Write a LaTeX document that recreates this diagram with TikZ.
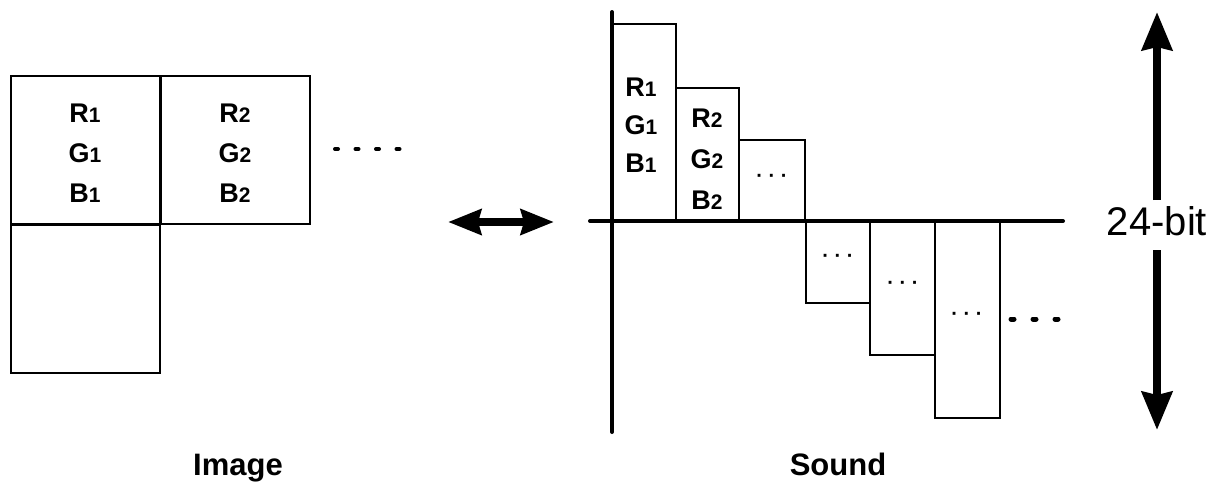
\documentclass[tikz,border=0pt]{standalone}
\usepackage{fontspec}
\setmainfont{Liberation Sans}
\usetikzlibrary{arrows.meta}
\newcommand\sdigit[1]{{\fontsize{21}{39}\selectfont #1}}
\begin{document}
\begin{tikzpicture}[x=1pt,y=-1pt,
  cell/.style={draw,line width=2pt,minimum width=149pt,minimum height=148pt,inner sep=0pt},
  bar/.style={draw,line width=1.8pt,inner sep=0pt},
  rgb/.style={font=\fontsize{27}{40}\selectfont\bfseries,align=center,inner sep=0pt},
  smalldots/.style={font=\fontsize{20}{20}\selectfont\bfseries,inner sep=0pt},
  axis/.style={line width=4pt,line cap=round},
  dashes/.style={line cap=round,dash pattern=on 3pt off 17.5pt},
  bigtip/.tip={Stealth[length=33pt,width=25pt,inset=3pt]},
  vtip/.tip={Stealth[length=38pt,width=30pt,inset=3pt]},
  caption/.style={font=\fontsize{31}{36}\selectfont\bfseries,inner sep=0pt,anchor=base}
]
\useasboundingbox (0,0) rectangle (1222,485);
% Image grid
\node[cell] (c1) at (85.5,150) {};
\node[cell] (c2) at (235,150) {};
\node[cell] (c3) at (85.5,298.5) {};
\node[rgb] (t1) at (85,153) {R\sdigit{1}\\G\sdigit{1}\\B\sdigit{1}};
\node[rgb] (t2) at (235,153) {R\sdigit{2}\\G\sdigit{2}\\B\sdigit{2}};
\coordinate (ds1) at (335,149);
\coordinate (de1) at (400,149);
\draw[dashes,line width=4pt] (ds1) -- (de1);
% double arrow
\coordinate (dl) at (448,222);
\coordinate (dr) at (554,222);
\draw[line width=8pt,{bigtip}-{bigtip}] (dl) -- (dr);
% Sound bars
\node[bar,minimum width=63pt,minimum height=197pt] (b1) at (644.5,122.5) {};
\node[bar,minimum width=63pt,minimum height=133pt] (b2) at (707.5,154.5) {};
\node[bar,minimum width=66pt,minimum height=81pt] (b3) at (772,180.5) {};
\node[bar,minimum width=64pt,minimum height=82pt] (b4) at (838,262) {};
\node[bar,minimum width=65pt,minimum height=134pt] (b5) at (902.5,288) {};
\node[bar,minimum width=65pt,minimum height=197pt] (b6) at (967.5,319.5) {};
\node[rgb,font=\fontsize{27}{38}\selectfont\bfseries] (s1) at (641,125) {R\sdigit{1}\\G\sdigit{1}\\B\sdigit{1}};
\node[rgb,font=\fontsize{27}{41}\selectfont\bfseries] (s2) at (707,159) {R\sdigit{2}\\G\sdigit{2}\\B\sdigit{2}};
\node[smalldots] (p3) at (772,178) {· · ·};
\node[smalldots] (p4) at (838,258) {· · ·};
\node[smalldots] (p5) at (903,285) {· · ·};
\node[smalldots] (p6) at (967,316) {· · ·};
\coordinate (ds2) at (1011,319);
\coordinate (de2) at (1058,319);
\draw[dashes,line width=5pt,dash pattern=on 3pt off 19pt] (ds2) -- (de2);
% axes
\coordinate (vtop) at (612,12);
\coordinate (vbot) at (612,432);
\coordinate (hl) at (590,221);
\coordinate (hr) at (1063,221);
\draw[axis] (vtop) -- (vbot);
\draw[axis] (hl) -- (hr);
% 24-bit arrow
\node[font=\fontsize{40}{44}\selectfont,inner sep=0pt] (bits) at (1157,221) {24-bit};
\coordinate (atop) at (1157,12);
\coordinate (abot) at (1157,430);
\coordinate (aup) at (1157,200);
\coordinate (adn) at (1157,250);
\draw[line width=8pt,-{vtip}] (aup) -- (atop);
\draw[line width=8pt,-{vtip}] (adn) -- (abot);
% captions
\node[caption] (img) at (238,475) {Image};
\node[caption] (snd) at (838,475) {Sound};
\end{tikzpicture}
\end{document}
